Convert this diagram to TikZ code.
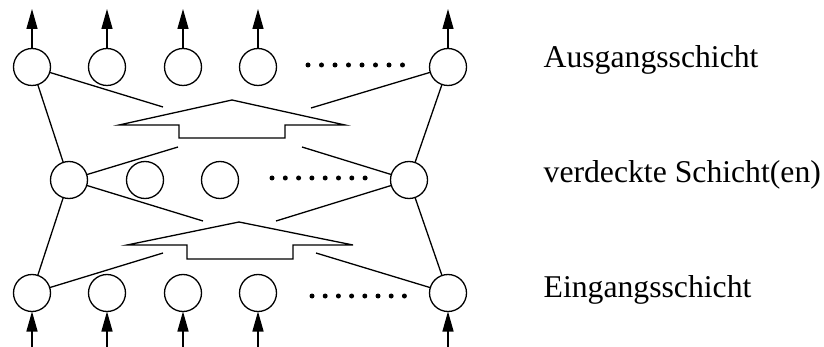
\documentclass[tikz,border=0pt]{standalone}
\usepackage{fontspec}
\setmainfont{Liberation Serif}
\usetikzlibrary{arrows.meta}
\begin{document}
\begin{tikzpicture}[x=1pt,y=-1pt,line width=1.3pt,
  neuron/.style={circle,draw,minimum size=37pt,inner sep=0pt,outer sep=0pt},
  sig/.style={-{Triangle[length=20pt,width=11pt]}},
  fat/.style={draw,line join=miter},
  dot/.style={circle,fill,inner sep=0pt,minimum size=5pt},
  lbl/.style={anchor=base west,inner sep=0pt,font=\fontsize{31.7}{38}\selectfont}]
\useasboundingbox (0,0) rectangle (824,347);
% output layer
\foreach \n/\x in {1/32,2/107,3/183,4/258,5/448}{
  \node[neuron] (o\n) at (\x,67) {};
  \coordinate (ot\n) at (\x,9);
  \draw[sig] (o\n) -- (ot\n);
}
% hidden layer
\foreach \n/\x in {1/69,2/145,3/220,4/409}{
  \node[neuron] (h\n) at (\x,180) {};
}
% input layer
\foreach \n/\x in {1/32,2/107,3/183,4/258,5/448}{
  \node[neuron] (i\n) at (\x,293) {};
  \coordinate (ib\n) at (\x,347);
  \draw[sig] (ib\n) -- (i\n);
}
% dots
\foreach \k in {0,...,7}{
  \node[dot] (do\k) at (308+13.5*\k,65) {};
  \node[dot] (dh\k) at (272+13.3*\k,178) {};
  \node[dot] (di\k) at (312+13.2*\k,296) {};
}
% connections
\draw (o1) -- (h1);
\draw (o5) -- (h4);
\draw (h1) -- (i1);
\draw (h4) -- (i5);
\coordinate (ca) at (163,107);
\coordinate (cb) at (311,108);
\coordinate (cc) at (178,147);
\coordinate (cd) at (302,147);
\coordinate (ce) at (203,221);
\coordinate (cf) at (276,221);
\coordinate (cg) at (163,253);
\coordinate (ch) at (316,253);
\draw (o1) -- (ca);
\draw (o5) -- (cb);
\draw (h1) -- (cc);
\draw (h4) -- (cd);
\draw (h1) -- (ce);
\draw (h4) -- (cf);
\draw (i1) -- (cg);
\draw (i5) -- (ch);
% fat arrows
\draw[fat] (119,125) -- (232,100) -- (345,125) -- (285,125) -- (285,138) -- (179,138) -- (179,125) -- cycle;
\draw[fat] (127,245) -- (239,222) -- (353,245) -- (293,245) -- (293,259) -- (187,259) -- (187,245) -- cycle;
% labels
\node[lbl] (la) at (543,68) {Ausgangsschicht};
\node[lbl] (lb) at (543,183) {verdeckte Schicht(en)};
\node[lbl] (lc) at (543,297) {Eingangsschicht};
\end{tikzpicture}
\end{document}
